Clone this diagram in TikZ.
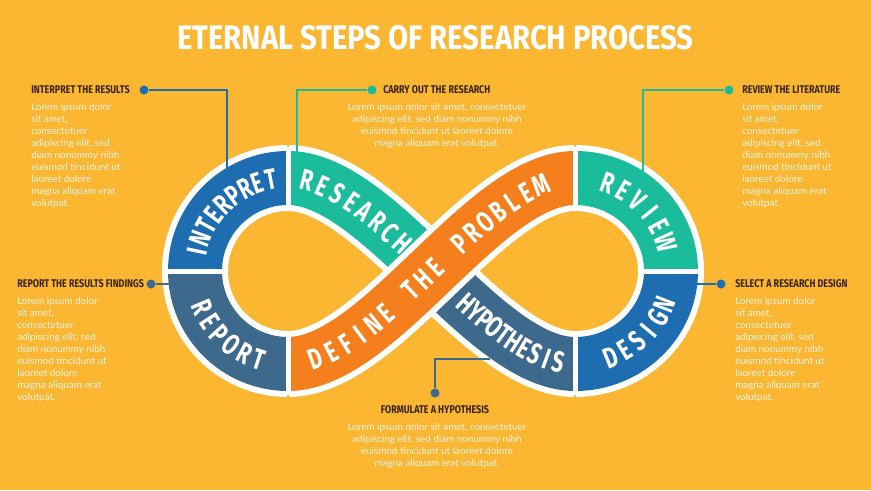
\documentclass[tikz,border=0pt]{standalone}
\usepackage{fontspec}
\setmainfont{Lato}
\newfontfamily\headfont{Fira Sans}[FakeStretch=0.8]
\newfontfamily\titlefont{Fira Sans}[FakeStretch=0.86]
\newfontfamily\bandfont{Fira Sans}[FakeStretch=0.7]
\usetikzlibrary{decorations.markings}

\definecolor{bgyellow}{HTML}{FBB632}
\definecolor{ibblue}{HTML}{1F6DB1}
\definecolor{ibteal}{HTML}{1ABC9C}
\definecolor{ibslate}{HTML}{3D6A8C}
\definecolor{iborange}{HTML}{F57F1C}
\definecolor{headbrown}{HTML}{3A2416}

\newcommand{\lipnarrow}{Lorem ipsum dolor\\sit amet,\\consectetuer\\adipiscing elit, sed\\diam nonummy nibh\\euismod tincidunt ut\\laoreet dolore\\magna aliquam erat\\volutpat.}
\newcommand{\lipwide}{Lorem ipsum dolor sit amet, consectetuer\\adipiscing elit, sed diam nonummy nibh\\euismod tincidunt ut laoreet dolore\\magna aliquam erat volutpat.}

\begin{document}
\begin{tikzpicture}[
		x=0.75pt, y=0.75pt,
		band/.style={line width=40.5pt},
		rim/.style={draw=white, line width=49.5pt},
		gap/.style={draw=white, line width=3.75pt},
		letter/.style={
			text=white,
			inner sep=0pt,
			font=\bandfont\bfseries\fontsize{22}{22}\selectfont
		},
		wire/.style={line width=1.5pt},
		dot/.style={circle, inner sep=0pt, minimum size=6.75pt},
		head/.style={
			inner sep=0pt,
			text=headbrown,
			font=\headfont\bfseries\fontsize{8.4}{9}\selectfont
		},
		body/.style={
			inner sep=0pt,
			text=white!85!bgyellow,
			font=\fontsize{7.4}{9}\selectfont
		}
		]
		% background
		\fill[bgyellow] (0,0) rectangle (871,-490);
		\node[text=white, font=\titlefont\bfseries\fontsize{25.5}{25.5}\selectfont] (title) at (435.5,-38) {ETERNAL STEPS OF RESEARCH PROCESS};

		\coordinate (lc) at (288,-271);
		\coordinate (rc) at (575,-271);

		% white rims
		\draw[rim] (288,-178) arc[start angle=90, end angle=270, radius=93];
		\draw[rim] (575,-178) arc[start angle=90, end angle=-90, x radius=96, y radius=93];
		\draw[rim] (288,-178) .. controls (380,-178) and (483,-364) .. (575,-364);

		% coloured bands
		\draw[band, ibblue] (288,-178) arc[start angle=90, end angle=180, radius=93];
		\draw[band, ibslate] (195,-271) arc[start angle=180, end angle=270, radius=93];
		\draw[band, ibteal] (575,-178) arc[start angle=90, end angle=0, x radius=96, y radius=93];
		\draw[band, ibblue] (671,-271) arc[start angle=0, end angle=-90, x radius=96, y radius=93];
		\draw[band, ibteal] (288,-178) .. controls (334,-178) and (382.75,-224.5) .. (431.5,-271);
		\draw[band, ibslate] (431.5,-271) .. controls (480.25,-317.5) and (529,-364) .. (575,-364);

		% define the problem on top
		\draw[rim] (288,-364) .. controls (380,-364) and (483,-178) .. (575,-178);
		\draw[band, iborange] (288,-364) .. controls (380,-364) and (483,-178) .. (575,-178);

		% gaps between the steps
		\draw[gap] (288,-147) -- (288,-209);
		\draw[gap] (288,-333) -- (288,-395);
		\draw[gap] (165,-271) -- (225,-271);
		\draw[gap] (575,-147) -- (575,-209);
		\draw[gap] (575,-333) -- (575,-395);
		\draw[gap] (641,-271) -- (701,-271);

		% band letters
		\foreach \l [count=\i, evaluate=\i as \a using 176.4-8.4*\i] in {I,N,T,E,R,P,R,E,T}
			\node[letter, rotate=\a-90] at ([shift={(\a:93)}]lc) {\l};
		\foreach \l [count=\i, evaluate=\i as \a using 193.2+9.8*\i] in {R,E,P,O,R,T}
			\node[letter, rotate=\a+90] at ([shift={(\a:93)}]lc) {\l};
		\foreach \l [count=\i, evaluate=\i as \a using 80.4-10.4*\i] in {R,E,V,I,E,W}
			\node[letter, rotate=\a-90] at ([shift={(\a:96 and 93)}]rc) {\l};
		\foreach \l [count=\i, evaluate=\i as \a using 282.6+9.4*\i] in {D,E,S,I,G,N}
			\node[letter, rotate=\a+90] at ([shift={(\a:96 and 93)}]rc) {\l};
		\foreach \l [count=\i, evaluate=\i as \p using 0.008+0.0471*\i] in {R,E,S,E,A,R,C,H}
			\path[decorate, decoration={markings, mark=at position \p with {\node[letter, transform shape] {\l};}}]
				(288,-178) .. controls (380,-178) and (483,-364) .. (575,-364);
		\foreach \l [count=\i, evaluate=\i as \p using 0.602+0.0349*\i] in {H,Y,P,O,T,H,E,S,I,S}
			\path[decorate, decoration={markings, mark=at position \p with {\node[letter, transform shape] {\l};}}]
				(288,-178) .. controls (380,-178) and (483,-364) .. (575,-364);
		\foreach \l [count=\i, evaluate=\i as \p using 0.033+0.0482*\i] in {D,E,F,I,N,E,{},T,H,E,{},P,R,O,B,L,E,M}
			\path[decorate, decoration={markings, mark=at position \p with {\node[letter, transform shape] {\l};}}]
				(288,-364) .. controls (380,-364) and (483,-178) .. (575,-178);

		% ends of the connectors on the bands
		\coordinate (pinterpret) at (227,-168);
		\coordinate (presearch) at (297,-152);
		\coordinate (preview) at (643,-171);
		\coordinate (pdesign) at (697,-284);
		\coordinate (preport) at (169,-284);
		\coordinate (phypo) at (490,-359);

		% connectors
		\node[dot, fill=ibblue] (dinterpret) at (144,-90) {};
		\draw[wire, ibblue] (dinterpret) -| (pinterpret);
		\node[dot, fill=ibteal] (dresearch) at (372,-90) {};
		\draw[wire, ibteal] (dresearch) -| (presearch);
		\node[dot, fill=ibteal] (dreview) at (729,-90) {};
		\draw[wire, ibteal] (dreview) -| (preview);
		\node[dot, fill=ibblue] (ddesign) at (721,-284) {};
		\draw[wire, ibblue] (ddesign) -- (pdesign);
		\node[dot, fill=ibslate] (dreport) at (151,-284) {};
		\draw[wire, ibslate] (dreport) -- (preport);
		\node[dot, fill=ibslate] (dformulate) at (435,-393) {};
		\draw[wire, ibslate] (dformulate) |- (phypo);

		% headings and text
		\node[head, anchor=west] (hinterpret) at (31,-90) {INTERPRET THE RESULTS};
		\node[body, anchor=north west, align=left] (tinterpret) at (31,-103) {\lipnarrow};
		\node[head, anchor=west] (hreport) at (17,-284) {REPORT THE RESULTS FINDINGS};
		\node[body, anchor=north west, align=left] (treport) at (17,-297) {\lipnarrow};
		\node[head, anchor=west] (hresearch) at (383,-90) {CARRY OUT THE RESEARCH};
		\node[body, anchor=north, align=center] (tresearch) at (437,-103) {\lipwide};
		\node[head] (hformulate) at (435,-410) {FORMULATE A HYPOTHESIS};
		\node[body, anchor=north, align=center] (tformulate) at (437,-423) {\lipwide};
		\node[head, anchor=west] (hreview) at (742,-90) {REVIEW THE LITERATURE};
		\node[body, anchor=north west, align=left] (treview) at (742,-103) {\lipnarrow};
		\node[head, anchor=west] (hdesign) at (735,-284) {SELECT A RESEARCH DESIGN};
		\node[body, anchor=north west, align=left] (tdesign) at (735,-297) {\lipnarrow};
\end{tikzpicture}
\end{document}
